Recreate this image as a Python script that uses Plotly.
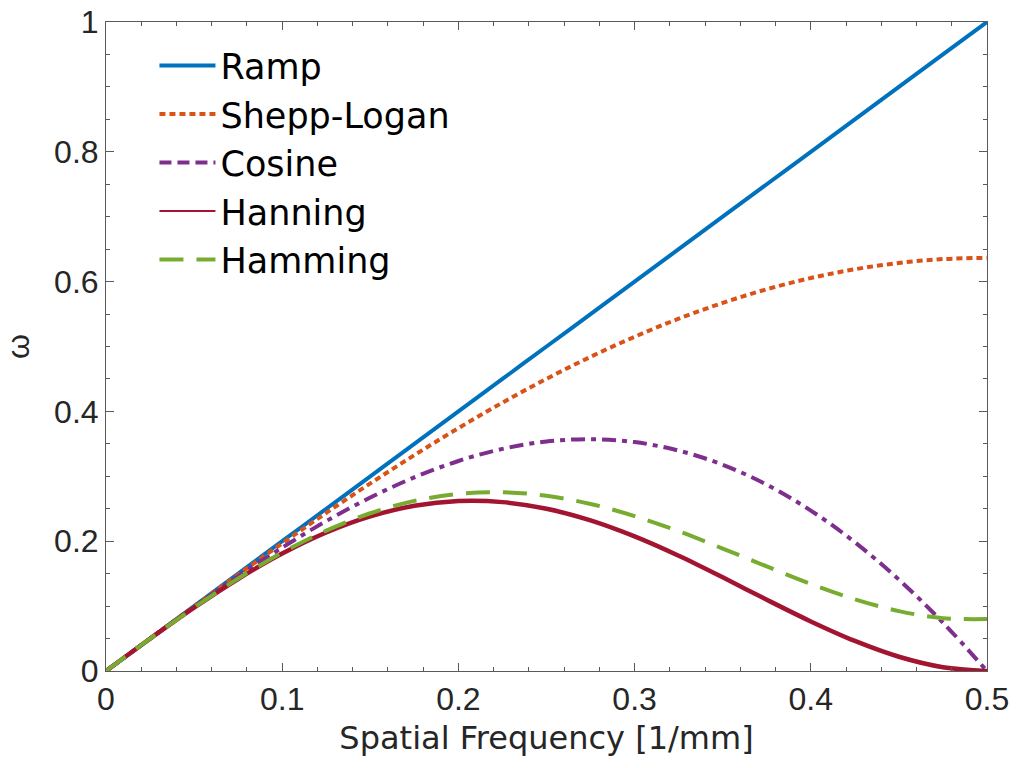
import plotly.graph_objects as go

# Spatial frequency samples [1/mm]
freq = [0.0, 0.025, 0.05, 0.075, 0.1, 0.125, 0.15, 0.175, 0.2, 0.225, 0.25,
        0.275, 0.3, 0.325, 0.35, 0.375, 0.4, 0.425, 0.45, 0.475, 0.5]

ramp = [0.0, 0.05, 0.10, 0.15, 0.20, 0.25, 0.30, 0.35, 0.40, 0.45, 0.50,
        0.55, 0.60, 0.65, 0.70, 0.75, 0.80, 0.85, 0.90, 0.95, 1.00]
shepp_logan = [0.0, 0.0500, 0.0996, 0.1486, 0.1967, 0.2436, 0.2890, 0.3326, 0.3742, 0.4135, 0.4502,
               0.4841, 0.5150, 0.5428, 0.5672, 0.5882, 0.6055, 0.6190, 0.6288, 0.6347, 0.6366]
cosine = [0.0, 0.0499, 0.0988, 0.1459, 0.1902, 0.2310, 0.2673, 0.2984, 0.3236, 0.3422, 0.3536,
          0.3572, 0.3527, 0.3396, 0.3178, 0.2870, 0.2472, 0.1984, 0.1408, 0.0745, 0.0]
hanning = [0.0, 0.0497, 0.0976, 0.1418, 0.1809, 0.2134, 0.2382, 0.2545, 0.2618, 0.2602, 0.2500,
           0.2320, 0.2073, 0.1775, 0.1443, 0.1098, 0.0764, 0.0463, 0.0220, 0.0059, 0.0]
hamming = [0.0, 0.0497, 0.0978, 0.1425, 0.1824, 0.2163, 0.2431, 0.2621, 0.2729, 0.2754, 0.2700,
           0.2574, 0.2387, 0.2153, 0.1887, 0.1611, 0.1343, 0.1106, 0.0923, 0.0814, 0.0800]

x_ticks = [0, 0.1, 0.2, 0.3, 0.4, 0.5]
x_labels = ["0", "0.1", "0.2", "0.3", "0.4", "0.5"]
y_ticks = [0, 0.2, 0.4, 0.6, 0.8, 1]
y_labels = ["0", "0.2", "0.4", "0.6", "0.8", "1"]

TICKFONT = "Liberation Sans, Arial, Helvetica, sans-serif"
WIDEFONT = "DejaVu Sans, Verdana, sans-serif"
AX = "#262626"
LINE = "#5a5a5a"

series = [
    ("Ramp", ramp, "#0072BD", "solid", 4, None),
    ("Shepp-Logan", shepp_logan, "#D95319", "6px,4px", 4, None),
    ("Cosine", cosine, "#7E2F8E", "14px,6px,5px,6px", 4, "12px,6px"),
    ("Hanning", hanning, "#A2142F", "solid", 4.5, 2),
    ("Hamming", hamming, "#77AC30", "24px,13px", 4, None),
]

fig = go.Figure()
for i, (name, vals, color, dash, w, leg) in enumerate(series):
    fig.add_trace(go.Scatter(
        x=freq, y=vals, mode="lines", name=name,
        line=dict(color=color, width=w, dash=dash, shape="spline", smoothing=1.0),
        showlegend=False,
    ))
# legend entries (styled as in the reference legend)
for i, (name, vals, color, dash, w, leg) in enumerate(series):
    ldash = dash
    lw = w
    if name == "Cosine":
        ldash = leg
    if name == "Hanning":
        lw = leg
    fig.add_trace(go.Scatter(
        x=[None], y=[None], mode="lines", name=name, legendgroup=f"g{i}",
        line=dict(color=color, width=lw, dash=ldash),
        showlegend=True,
    ))

axis_common = dict(
    showgrid=False, zeroline=False, showline=True, linecolor=LINE, linewidth=1,
    mirror="allticks", ticks="inside", ticklen=8, tickwidth=1, tickcolor=LINE,
    tickfont=dict(family=TICKFONT, size=32, color=AX), automargin=False,
)

fig.update_layout(
    width=1018, height=768,
    paper_bgcolor="white", plot_bgcolor="white",
    margin=dict(l=106, r=31, t=22, b=97),
    font=dict(family=TICKFONT, color=AX),
    xaxis=dict(range=[0, 0.5], tickvals=x_ticks, ticktext=x_labels,
               minor=dict(dtick=0.02, ticks="inside", ticklen=4, tickcolor=LINE, showgrid=False),
               title=dict(text="Spatial Frequency [1/mm]", font=dict(family=WIDEFONT, size=32, color=AX), standoff=10),
               **axis_common),
    yaxis=dict(range=[0, 1], tickvals=y_ticks, ticktext=y_labels,
               minor=dict(dtick=0.05, ticks="inside", ticklen=4, tickcolor=LINE, showgrid=False),
               title=dict(text="ω", font=dict(family=TICKFONT, size=32, color=AX), standoff=18),
               **axis_common),
    legend=dict(x=0.055, y=0.978, xanchor="left", yanchor="top",
                bgcolor="rgba(0,0,0,0)", borderwidth=0,
                font=dict(family=WIDEFONT, size=35, color="black"),
                tracegroupgap=0, itemwidth=56),
)

fig.write_html("out.html")
